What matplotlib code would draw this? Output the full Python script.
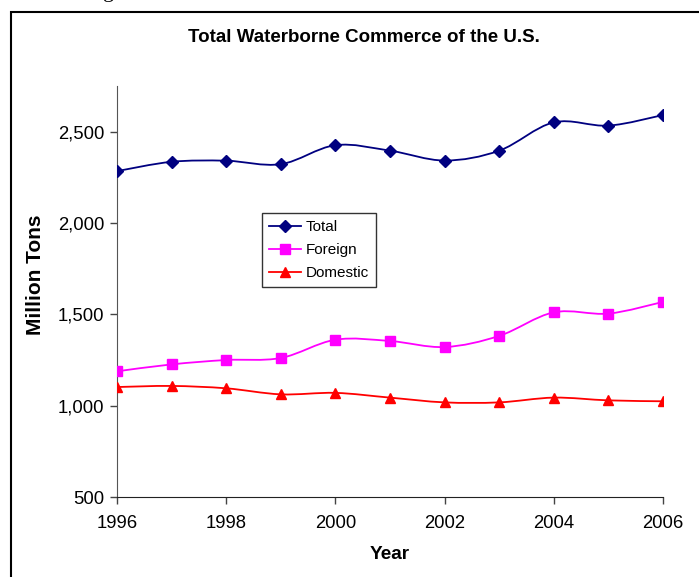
import matplotlib
matplotlib.use("Agg")
from matplotlib import pyplot as plt
from matplotlib.path import Path
from matplotlib.patches import PathPatch, Rectangle
from matplotlib.lines import Line2D
import numpy as np

plt.rcParams['font.family'] = ['Liberation Sans', 'DejaVu Sans']

years = [1996, 1997, 1998, 1999, 2000, 2001, 2002, 2003, 2004, 2005, 2006]
total = [2284, 2335, 2341, 2322, 2426, 2396, 2342, 2396, 2551, 2533, 2591]
foreign = [1188, 1226, 1250, 1261, 1361, 1354, 1321, 1382, 1511, 1504, 1568]
domestic = [1102, 1108, 1095, 1062, 1070, 1044, 1018, 1018, 1044, 1029, 1024]

series = [
    ("Total", total, "#000080", "D", 6.5),
    ("Foreign", foreign, "#FF00FF", "s", 6.5),
    ("Domestic", domestic, "#FF0000", "^", 7.5),
]


def smooth_path(x, y):
    # excel-style smoothed line: cubic bezier through the points
    pts = np.column_stack([x, y]).astype(float)
    n = len(pts)
    verts = [pts[0]]
    codes = [Path.MOVETO]
    for i in range(n - 1):
        p0 = pts[max(i - 1, 0)]
        p1 = pts[i]
        p2 = pts[i + 1]
        p3 = pts[min(i + 2, n - 1)]
        c1 = p1 + (p2 - p0) / 6.0
        c2 = p2 - (p3 - p1) / 6.0
        verts += [c1, c2, p2]
        codes += [Path.CURVE4] * 3
    return Path(verts, codes)


fig = plt.figure(figsize=(6.99, 5.77), dpi=100)
ax = fig.add_axes([117 / 699, 1 - 497 / 577, 546 / 699, 411 / 577])

handles = []
for name, vals, color, marker, ms in series:
    patch = PathPatch(smooth_path(years, vals), facecolor="none", edgecolor=color,
                      lw=1.3, transform=ax.transData, zorder=2)
    ax.add_patch(patch)
    ax.plot(years, vals, linestyle="none", marker=marker, color=color,
            markersize=ms, zorder=3)
    handles.append(Line2D([], [], color=color, lw=1.3, marker=marker, markersize=ms))

ax.set_xlim(1996, 2006)
ax.set_ylim(500, 2750)
ax.set_xticks([1996, 1998, 2000, 2002, 2004, 2006])
ax.set_yticks([500, 1000, 1500, 2000, 2500])
ax.set_yticklabels(["500", "1,000", "1,500", "2,000", "2,500"])
ax.tick_params(axis="both", labelsize=13.3, length=5, width=1, direction="out",
               color="#444444", pad=4)
ax.tick_params(axis="x", pad=8)

for s in ["top", "right"]:
    ax.spines[s].set_visible(False)
ax.spines["left"].set_color("#555555")
ax.spines["bottom"].set_color("#222222")

ax.set_xlabel("Year", fontsize=13.7, fontweight="bold", va="center")
ax.set_ylabel("Million Tons", fontsize=15, fontweight="bold", va="center")
ax.xaxis.set_label_coords(0.5, -0.141)
ax.yaxis.set_label_coords(-0.149, 0.540)

fig.text(364 / 699, 1 - 38 / 577, "Total Waterborne Commerce of the U.S.",
         ha="center", va="center", fontsize=13.5, fontweight="bold")

leg = ax.legend(handles, ["Total", "Foreign", "Domestic"],
                loc="upper left", bbox_to_anchor=(0.266, 0.691), borderaxespad=0,
                fontsize=11, frameon=True, fancybox=False, edgecolor="black",
                handlelength=2.1, handletextpad=0.3, labelspacing=0.6,
                borderpad=0.45)
leg.get_frame().set_linewidth(1.0)

# outer chart border (right and bottom run off the page)
fig.patches.append(Rectangle((11 / 699, -0.05), 1.1, 1 - 12 / 577 + 0.05,
                             transform=fig.transFigure, fill=False,
                             edgecolor="black", lw=1.5))
# descender of a caption letter cut off above the chart
fig.text(103 / 699, 1 + 3 / 577, "g", fontsize=16, family="Liberation Serif",
         va="baseline", ha="left")

fig.savefig("out.png", dpi=100)
